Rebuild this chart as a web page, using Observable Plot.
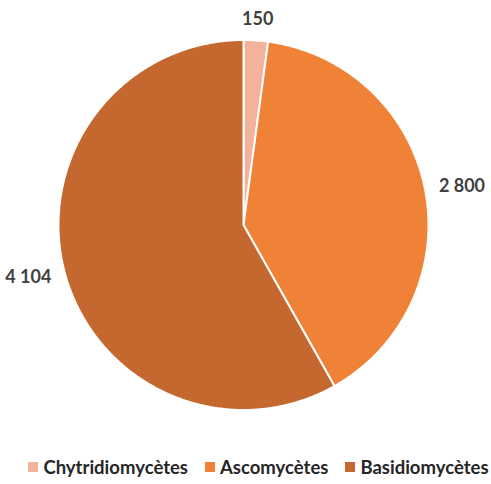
<!DOCTYPE html>
<html>
<head>
<meta charset="utf-8">
<script src="https://cdn.jsdelivr.net/npm/d3@7"></script>
<script src="https://cdn.jsdelivr.net/npm/@observablehq/plot@0.6"></script>
<style>
  html, body { margin: 0; padding: 0; background: #fff; }
  #chart { width: 491px; }
  .legend { display: flex; justify-content: center; gap: 17px; font-family: Lato, "Open Sans", sans-serif; font-weight: bold; font-size: 18.5px; color: #262626; margin-top: 12px; padding-left: 26px;}
  .legend span.item { display: inline-flex; align-items: center; }
  .legend span.sw { display: inline-block; width: 10px; height: 10px; margin-right: 5px; }
</style>
</head>
<body>
<div id="chart"></div>
<script>
const categories = ["Chytridiomycètes", "Ascomycètes", "Basidiomycètes"];
const values = [150, 2800, 4104];
const colors = ["#F4B29C", "#F08238", "#C4682F"];

const fmt = d3.formatLocale({decimal: ",", thousands: " ", grouping: [3]}).format(",d");

// Build slice polygons (unit circle) from cumulative values via d3.pie
const pie = d3.pie().sort(null).value(d => d.value)(categories.map((name, i) => ({name, value: values[i]})));
const polys = [];
const labels = [];
pie.forEach(s => {
  const name = s.data.name;
  polys.push({name, x: 0, y: 0});
  const n = Math.max(2, Math.ceil((s.endAngle - s.startAngle) / (Math.PI / 360)));
  for (let k = 0; k <= n; k++) {
    const a = s.startAngle + (s.endAngle - s.startAngle) * k / n;
    polys.push({name, x: Math.sin(a), y: Math.cos(a)});
  }
  polys.push({name, x: 0, y: 0});
  const mid = (s.startAngle + s.endAngle) / 2;
  const txt = fmt(s.data.value);
  const hw = txt.length * 4.9 / 185; // half width in unit radius
  const hh = 8 / 185;
  labels.push({
    text: txt,
    x: Math.sin(mid) * 1.07 + Math.sign(Math.sin(mid)) * hw * Math.abs(Math.sin(mid)),
    y: Math.cos(mid) * 1.07 + Math.sign(Math.cos(mid)) * hh * Math.abs(Math.cos(mid))
  });
});

const W = 491, H = 444;
const cx = 243, cy = 224.5, R = 185;
const chart = Plot.plot({
  width: W,
  height: H,
  marginLeft: cx - R,
  marginRight: W - (cx + R),
  marginTop: cy - R,
  marginBottom: H - (cy + R),
  x: {domain: [-1, 1], axis: null},
  y: {domain: [-1, 1], axis: null},
  color: {domain: categories, range: colors},
  style: {fontFamily: "Lato, 'Open Sans', sans-serif", background: "white"},
  marks: [
    Plot.line(polys, {x: "x", y: "y", z: "name", fill: "name", stroke: "white", strokeWidth: 2, strokeLinejoin: "round"}),
    Plot.text(labels, {x: "x", y: "y", text: "text", fontSize: 18, fontWeight: "bold", fill: "#404040", clip: false})
  ]
});
document.getElementById("chart").appendChild(chart);

const legend = document.createElement("div");
legend.className = "legend";
categories.forEach((c, i) => {
  const it = document.createElement("span");
  it.className = "item";
  const sw = document.createElement("span");
  sw.className = "sw";
  sw.style.background = colors[i];
  it.appendChild(sw);
  it.appendChild(document.createTextNode(c));
  legend.appendChild(it);
});
document.getElementById("chart").appendChild(legend);
</script>
</body>
</html>
